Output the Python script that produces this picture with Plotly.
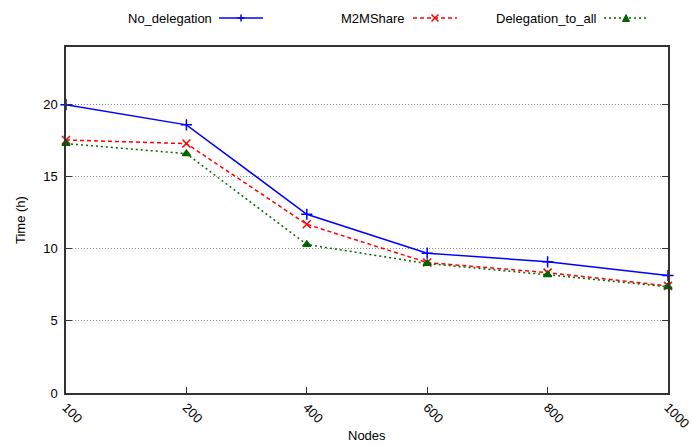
import plotly.graph_objects as go

nodes = ["100", "200", "400", "600", "800", "1000"]
no_delegation = [20.0, 18.6, 12.4, 9.7, 9.1, 8.15]
m2mshare = [17.55, 17.3, 11.7, 9.05, 8.35, 7.43]
delegation_to_all = [17.3, 16.6, 10.3, 8.98, 8.2, 7.37]

FONT = "Liberation Sans, Arial, Helvetica, sans-serif"
BLUE = "#0000ff"
RED = "#ff0000"
GREEN = "#006400"

series = [
    ("No_delegation", no_delegation, BLUE, "solid", "cross-thin-open"),
    ("M2MShare", m2mshare, RED, "4px,3px", "x-thin-open"),
    ("Delegation_to_all", delegation_to_all, GREEN, "2px,3px", "triangle-up"),
]

fig = go.Figure()
for name, vals, col, dash, sym in series:
    fig.add_trace(go.Scatter(
        x=nodes, y=vals, name=name, mode="lines+markers",
        line=dict(color=col, width=1.5, dash=dash),
        marker=dict(symbol=sym, size=8 if "thin" in sym else 7, color=col,
                    line=dict(color=col, width=1.5)),
        cliponaxis=False, showlegend=False,
    ))

# gnuplot-style key: text on the left, line sample on the right
key_y = 1.0838
key_items = [
    ("No_delegation", BLUE, "solid", 0.2458, 0.2542, 0.3272, "plus"),
    ("M2MShare", RED, "dash", 0.5664, 0.5764, 0.6495, "x"),
    ("Delegation_to_all", GREEN, "dot", 0.8854, 0.8937, 0.9668, "tri"),
]
W, H = 602.0, 346.0
for text, col, dash, tx, x0, x1, mk in key_items:
    fig.add_annotation(x=tx, y=key_y, xref="paper", yref="paper", text=text,
                       showarrow=False, xanchor="right", yanchor="middle",
                       font=dict(family=FONT, size=13, color="black"))
    fig.add_shape(type="line", xref="paper", yref="paper", x0=x0, x1=x1,
                  y0=key_y, y1=key_y,
                  line=dict(color=col, width=1.5,
                            dash={"solid": "solid", "dash": "4px,3px", "dot": "2px,3px"}[dash]))
    xm = (x0 + x1) / 2
    dx, dy = 3.5 / W, 3.5 / H
    if mk == "plus":
        fig.add_shape(type="line", xref="paper", yref="paper", x0=xm - dx, x1=xm + dx,
                      y0=key_y, y1=key_y, line=dict(color=col, width=1.5))
        fig.add_shape(type="line", xref="paper", yref="paper", x0=xm, x1=xm,
                      y0=key_y - dy, y1=key_y + dy, line=dict(color=col, width=1.5))
    elif mk == "x":
        fig.add_shape(type="line", xref="paper", yref="paper", x0=xm - dx, x1=xm + dx,
                      y0=key_y - dy, y1=key_y + dy, line=dict(color=col, width=1.5))
        fig.add_shape(type="line", xref="paper", yref="paper", x0=xm - dx, x1=xm + dx,
                      y0=key_y + dy, y1=key_y - dy, line=dict(color=col, width=1.5))
    else:
        fig.add_shape(type="path", xref="paper", yref="paper",
                      path=f"M {xm - dx} {key_y - dy} L {xm + dx} {key_y - dy} L {xm} {key_y + dy} Z",
                      fillcolor=col, line=dict(color=col, width=1))

# axis titles
fig.add_annotation(x=0.5, y=-0.1214, xref="paper", yref="paper", text="Nodes",
                   showarrow=False, xanchor="center", yanchor="middle",
                   font=dict(family=FONT, size=13, color="black"))
fig.add_annotation(x=-0.0764, y=0.5, xref="paper", yref="paper", text="Time (h)",
                   showarrow=False, textangle=-90, xanchor="center", yanchor="middle",
                   font=dict(family=FONT, size=13, color="black"))

fig.update_layout(
    width=692, height=445, autosize=False,
    margin=dict(l=66, r=24, t=47, b=52, autoexpand=False),
    paper_bgcolor="white", plot_bgcolor="white",
    font=dict(family=FONT, size=13, color="black"),
    showlegend=False,
)
fig.update_xaxes(
    type="category", range=[0, 5], categoryorder="array", categoryarray=nodes,
    automargin=False,
    showgrid=False, zeroline=False,
    showline=True, linecolor="#333333", linewidth=1.5, mirror=True,
    ticks="inside", ticklen=6, tickcolor="#333333", tickwidth=1,
    tickangle=45, tickfont=dict(family=FONT, size=13, color="black"),
)
fig.update_yaxes(
    range=[0, 24], tickvals=[0, 5, 10, 15, 20],
    automargin=False,
    showgrid=True, gridcolor="#888888", gridwidth=1, griddash="1px,2px",
    zeroline=False,
    showline=True, linecolor="#333333", linewidth=1.5, mirror="ticks",
    ticks="inside", ticklen=6, tickcolor="#333333", tickwidth=1,
    ticklabelstandoff=4,
    tickfont=dict(family=FONT, size=13, color="black"),
)

fig.write_html(
    "out.html",
    config={"displayModeBar": False, "responsive": False},
    post_script="document.body.style.margin='0px';document.body.style.overflow='hidden';",
)
